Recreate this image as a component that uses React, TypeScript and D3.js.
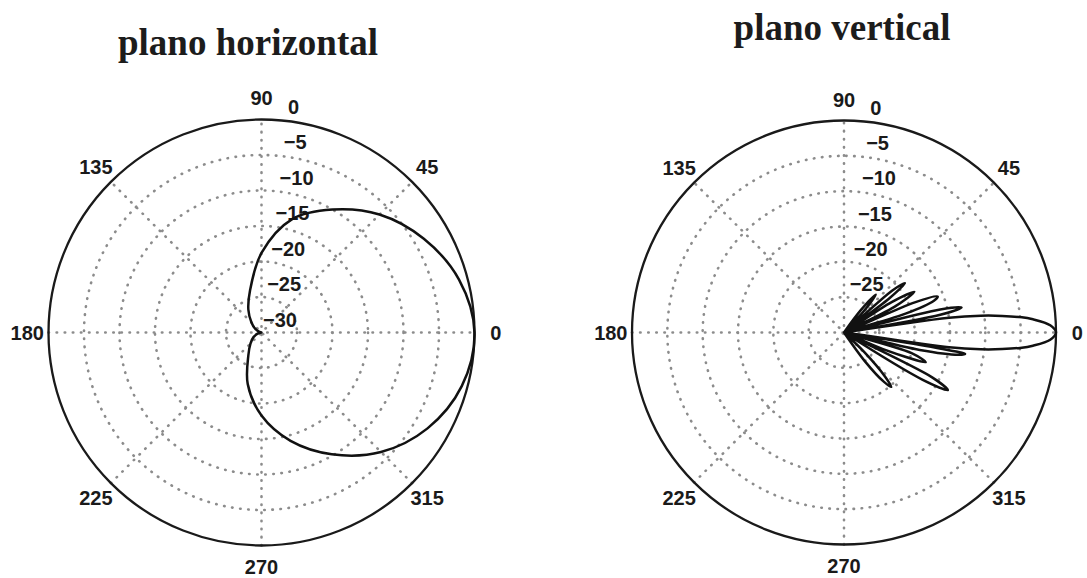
import React from 'react';
import * as d3 from 'd3';

const W = 1087;
const H = 578;

// grid / ticks
const ringLevels = [-5, -10, -15, -20, -25];
const radialLabels = [0, -5, -10, -15, -20, -25, -30];
const spokeLines = [0, 45, 90, 135];
const angleLabels = [0, 45, 90, 135, 180, 225, 270, 315];

// plano horizontal: angle (deg) and level (dB)
const horizAngles = [0, 15, 30, 45, 60, 75, 90, 105, 120, 135, 150, 165, 180, 195, 210, 225, 240, 255, 270, 285, 300, 315, 330, 345];
const horizDb = [0, -1.2, -3.6, -6.5, -10.0, -13.5, -18.8, -23.8, -26.3, -28, -29, -29.7, -30, -29.5, -28.7, -27.8, -26.3, -22.5, -18.3, -14.2, -10.2, -6.2, -3.0, -0.8];

// plano vertical: angle (deg) and level (dB)
const vertAngles = [
  -90, -57, -54, -51, -49, -47, -44, -41,
  -33, -31, -29, -27, -25, -23, -20, -17, -15, -13, -11, -10, -9.4,
  -8.8, -8, -7, -6, -5, -4, -2, 0, 2, 4, 5, 6, 7, 8, 8.8,
  9.6, 10.5, 12, 13.5, 15, 17, 19.5, 21, 23, 25, 27, 30, 32.5, 35, 37, 39, 41, 44, 47, 50, 53, 56, 90, 180,
];
const vertDb = [
  -30, -30, -25, -21, -19.8, -21.5, -26, -30,
  -30, -17, -13.2, -16, -30, -24, -17.7, -20, -30, -19, -13.5, -12.6, -17,
  -30, -15, -10.5, -7.5, -5, -3.2, -0.8, 0, -0.8, -3.2, -5, -7.5, -10.5, -15, -30,
  -30, -16, -13, -16, -30, -21, -16.5, -15.8, -19, -30, -22, -18.5, -22, -30, -22, -18.9, -21, -30, -26, -23, -26, -30, -30, -30,
];

const titles = ['plano horizontal', 'plano vertical'];

const tickFont = '"Liberation Sans", Arial, Helvetica, sans-serif';
const titleFont = '"Liberation Serif", "Times New Roman", serif';

type PolarProps = {
  cx: number;
  cy: number;
  R: number;
  title: string;
  titleX: number;
  titleY: number;
  angles: number[];
  db: number[];
  showCenterLabel: boolean;
};

function Polar({ cx, cy, R, title, titleX, titleY, angles, db, showCenterLabel }: PolarProps) {
  const r = d3.scaleLinear().domain([-30, 0]).range([0, R]).clamp(true);
  const pts: [number, number][] = angles.map((a, i) => [a, db[i]]);
  const line = d3
    .lineRadial<[number, number]>()
    .angle((d) => ((90 - d[0]) * Math.PI) / 180)
    .radius((d) => r(d[1]))
    .curve(d3.curveCatmullRomClosed.alpha(0.5));
  const dotStyle = {
    fill: 'none',
    stroke: '#8c8c8c',
    strokeWidth: 2.6,
    strokeDasharray: '0.5 7.6',
    strokeLinecap: 'round' as const,
  };
  return (
    <g>
      <text x={titleX} y={titleY} textAnchor="middle" fontFamily={titleFont} fontWeight="bold" fontSize={37} fill="#1c1c1c">
        {title}
      </text>
      <g transform={`translate(${cx},${cy})`}>
        {ringLevels.map((v) => (
          <circle key={v} r={r(v)} style={dotStyle} />
        ))}
        {spokeLines.map((a) => {
          const t = (a * Math.PI) / 180;
          return (
            <line key={a} x1={-R * Math.cos(t)} y1={R * Math.sin(t)} x2={R * Math.cos(t)} y2={-R * Math.sin(t)} style={dotStyle} />
          );
        })}
        <circle r={R} fill="none" stroke="#1a1a1a" strokeWidth={2.3} />
        {radialLabels
          .filter((v) => showCenterLabel || v !== -30)
          .map((v) => (
            <text
              key={v}
              x={1.5 + 0.117 * r(v)}
              y={-r(v) - 6}
              fontFamily={tickFont}
              fontWeight="bold"
              fontSize={20}
              fill="#1a1a1a"
            >
              {v === 0 ? '0' : '\u2212' + Math.abs(v)}
            </text>
          ))}
        {angleLabels.map((a) => {
          const t = (a * Math.PI) / 180;
          return (
            <text
              key={a}
              x={1.1 * R * Math.cos(t)}
              y={-1.1 * R * Math.sin(t)}
              dy="0.36em"
              textAnchor="middle"
              fontFamily={tickFont}
              fontWeight="bold"
              fontSize={20}
              fill="#1a1a1a"
            >
              {a}
            </text>
          );
        })}
        <path d={line(pts) || ''} fill="none" stroke="#111" strokeWidth={2.5} strokeLinejoin="round" />
      </g>
    </g>
  );
}

export default function App() {
  return (
    <svg width={W} height={H} style={{ position: 'absolute', left: 0, top: 0, background: '#fff' }}>
      <rect width={W} height={H} fill="#fff" />
      <Polar cx={261.5} cy={332.5} R={213} title={titles[0]} titleX={248} titleY={55} angles={horizAngles} db={horizDb} showCenterLabel={true} />
      <Polar cx={844} cy={332.5} R={212} title={titles[1]} titleX={842} titleY={40} angles={vertAngles} db={vertDb} showCenterLabel={false} />
    </svg>
  );
}
